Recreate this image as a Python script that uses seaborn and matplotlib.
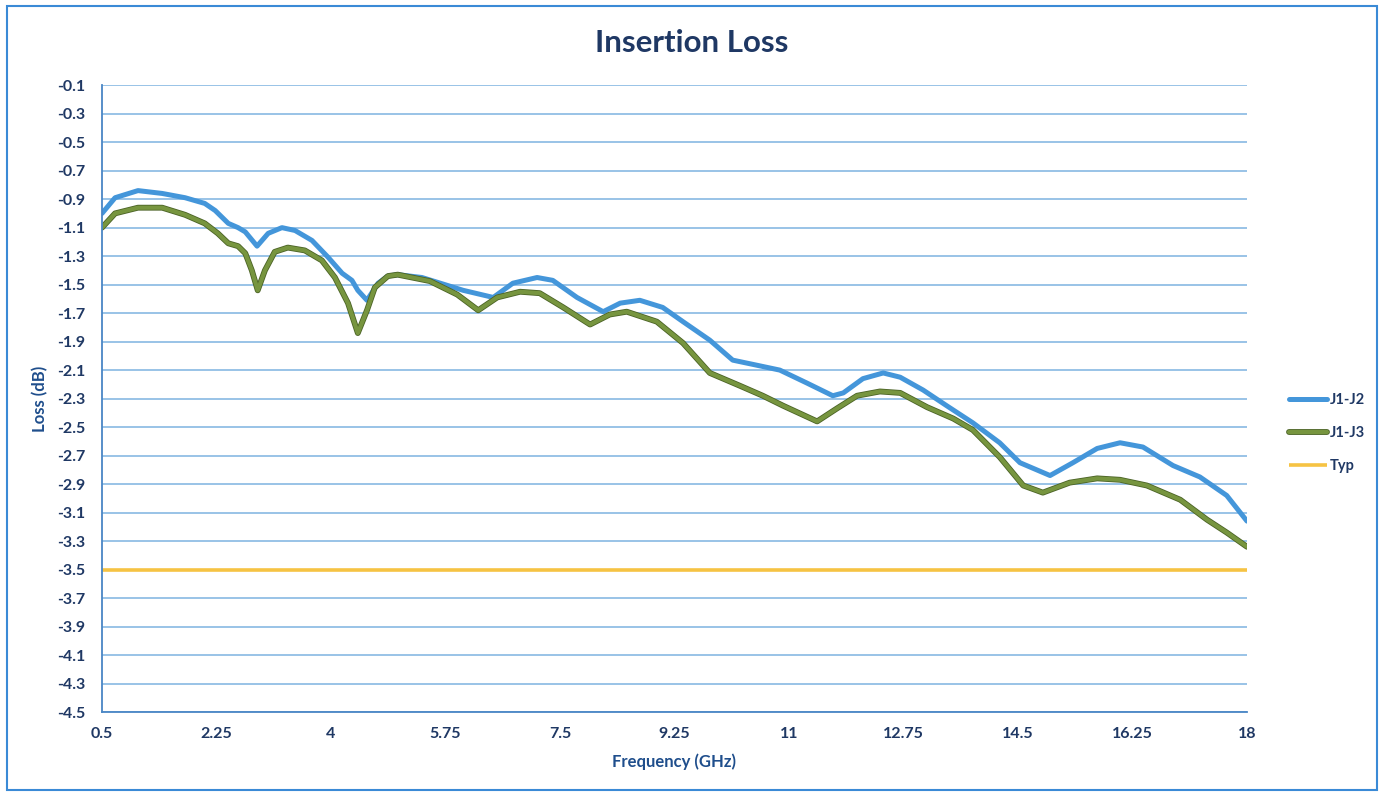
import numpy as np
import pandas as pd
import matplotlib
matplotlib.use("Agg")
import matplotlib.pyplot as plt
import matplotlib.patheffects as pe
from matplotlib.patches import Rectangle
import seaborn as sns

# values
freq_j12 = [0.5, 0.70, 1.05, 1.42, 1.77, 2.07, 2.23, 2.43, 2.58, 2.69, 2.87, 3.04, 3.25,
            3.45, 3.71, 3.96, 4.17, 4.32, 4.41, 4.55, 4.72, 4.87, 5.02, 5.39, 5.74, 6.02,
            6.48, 6.78, 7.15, 7.39, 7.76, 8.16, 8.42, 8.72, 9.07, 9.38, 9.79, 10.14, 10.45,
            10.86, 11.27, 11.67, 11.83, 12.13, 12.44, 12.70, 13.05, 13.41, 13.81, 14.22,
            14.53, 14.99, 15.34, 15.71, 16.06, 16.41, 16.87, 17.28, 17.69, 18.0]
loss_j12 = [-1.00, -0.89, -0.84, -0.86, -0.89, -0.93, -0.98, -1.07, -1.10, -1.13, -1.23,
            -1.14, -1.10, -1.12, -1.19, -1.31, -1.42, -1.47, -1.54, -1.61, -1.49, -1.44,
            -1.43, -1.45, -1.50, -1.54, -1.59, -1.49, -1.45, -1.47, -1.59, -1.69, -1.63,
            -1.61, -1.66, -1.76, -1.89, -2.03, -2.06, -2.10, -2.19, -2.28, -2.26, -2.16,
            -2.12, -2.15, -2.24, -2.35, -2.47, -2.61, -2.75, -2.84, -2.75, -2.65, -2.61,
            -2.64, -2.77, -2.85, -2.98, -3.16]

freq_j13 = [0.5, 0.70, 1.05, 1.42, 1.77, 2.07, 2.27, 2.43, 2.58, 2.69, 2.79, 2.88, 2.99,
            3.14, 3.34, 3.60, 3.86, 4.06, 4.26, 4.41, 4.55, 4.67, 4.87, 5.02, 5.51, 5.93,
            6.25, 6.54, 6.89, 7.19, 7.55, 7.96, 8.26, 8.52, 8.98, 9.38, 9.79, 10.25, 10.60,
            10.91, 11.43, 11.73, 12.04, 12.39, 12.70, 13.11, 13.51, 13.81, 14.22, 14.58,
            14.88, 15.29, 15.71, 16.06, 16.47, 16.98, 17.39, 17.69, 18.0]
loss_j13 = [-1.10, -1.00, -0.96, -0.96, -1.01, -1.07, -1.14, -1.21, -1.23, -1.28, -1.40,
            -1.54, -1.40, -1.27, -1.24, -1.26, -1.33, -1.45, -1.63, -1.84, -1.68, -1.52,
            -1.44, -1.43, -1.475, -1.57, -1.68, -1.59, -1.55, -1.56, -1.66, -1.78, -1.71,
            -1.69, -1.76, -1.91, -2.12, -2.21, -2.28, -2.35, -2.46, -2.37, -2.28, -2.25,
            -2.26, -2.36, -2.44, -2.52, -2.71, -2.91, -2.96, -2.89, -2.86, -2.87, -2.91,
            -3.01, -3.15, -3.24, -3.34]

freq_typ = [0.5, 18.0]
loss_typ = [-3.5, -3.5]

x_ticks = [0.5, 2.25, 4, 5.75, 7.5, 9.25, 11, 12.75, 14.5, 16.25, 18]
x_tick_labels = ["0.5", "2.25", "4", "5.75", "7.5", "9.25", "11", "12.75", "14.5", "16.25", "18"]
y_ticks = np.round(np.arange(-4.5, -0.09, 0.2), 1)

df = pd.concat([
    pd.DataFrame({"freq": freq_j12, "loss": loss_j12, "series": "J1-J2"}),
    pd.DataFrame({"freq": freq_j13, "loss": loss_j13, "series": "J1-J3"}),
    pd.DataFrame({"freq": freq_typ, "loss": loss_typ, "series": "Typ"}),
], ignore_index=True)

colors = {"J1-J2": "#4496DA", "J1-J3": "#77953F", "Typ": "#F6C343"}
NAVY = "#1F3864"
GRID = "#7DB3E0"

sns.set_theme(style="white")
plt.rcParams.update({
    "font.family": ["Lato", "DejaVu Sans"],
    "font.weight": "bold",
})

fig = plt.figure(figsize=(13.84, 7.96), dpi=100)
ax = fig.add_axes([0.0737, 0.1055, 0.8273, 0.7875])

sns.lineplot(data=df, x="freq", y="loss", hue="series", palette=colors,
             ax=ax, linewidth=3.2, sort=False, estimator=None, legend=False)

lines = ax.get_lines()
for ln in lines:
    ln.set_solid_joinstyle("round")
    ln.set_solid_capstyle("round")
lines[0].set_linewidth(3.6)
lines[1].set_linewidth(3.0)
lines[1].set_path_effects([pe.Stroke(linewidth=4.2, foreground="#4B6326",
                                     joinstyle="round", capstyle="round"), pe.Normal()])
lines[2].set_linewidth(2.6)
lines[2].set_solid_capstyle("butt")

ax.set_xlim(0.5, 18)
ax.set_ylim(-4.5, -0.1)
ax.set_xticks(x_ticks)
ax.set_xticklabels(x_tick_labels)
ax.set_yticks(y_ticks)
ax.set_yticklabels([f"{v:.1f}" for v in y_ticks])
ax.tick_params(axis="both", labelsize=11.5, colors=NAVY, length=0)
ax.tick_params(axis="y", pad=12)
ax.tick_params(axis="x", pad=11)
for lab in ax.get_xticklabels() + ax.get_yticklabels():
    lab.set_fontweight("bold")

ax.yaxis.grid(True, color=GRID, linewidth=1.1)
ax.xaxis.grid(False)
ax.set_axisbelow(True)
for side in ["top", "right"]:
    ax.spines[side].set_visible(False)
for side in ["left", "bottom"]:
    ax.spines[side].set_color("#4A86C5")
    ax.spines[side].set_linewidth(1.3)

ax.set_xlabel("Frequency (GHz)", fontsize=12, fontweight="bold", color="#1F4E8C", labelpad=9)
ax.set_ylabel("Loss (dB)", fontsize=12, fontweight="bold", color="#1F4E8C", labelpad=6)

fig.text(0.5, 0.946, "Insertion Loss", ha="center", va="center",
         fontsize=22.5, fontweight="bold", color=NAVY)

# legend at the right
leg = ax.legend(handles=lines, labels=["J1-J2", "J1-J3", "Typ"],
                loc="center left", bbox_to_anchor=(1.025, 0.445), frameon=False,
                fontsize=10.5, handlelength=2.6, handletextpad=0.2, labelspacing=1.3)
for txt in leg.get_texts():
    txt.set_color(NAVY)
    txt.set_fontweight("bold")

fig.patches.append(Rectangle((0.005, 0.008), 0.99, 0.984, transform=fig.transFigure,
                             fill=False, edgecolor="#3A8AD6", linewidth=1.5))

fig.savefig("out.png", dpi=100, facecolor="white")
